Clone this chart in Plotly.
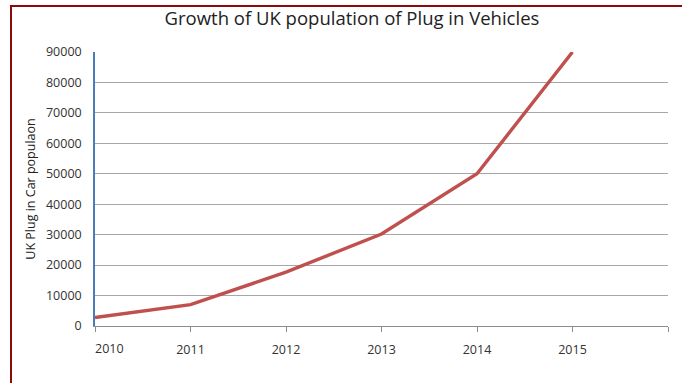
import plotly.graph_objects as go

years = [2010, 2011, 2012, 2013, 2014, 2015]
population = [2800, 7000, 17700, 30200, 50000, 90000]
x_tick_vals = [2010, 2011, 2012, 2013, 2014, 2015, 2016]
x_tick_text = ["", "2011", "2012", "2013", "2014", "2015", ""]
first_label = "2010"
y_tick_vals = [0, 10000, 20000, 30000, 40000, 50000, 60000, 70000, 80000, 90000]

W, H = 682, 383
L, R, T, B = 95, 14, 52, 57
pw, ph = W - L - R, H - T - B

FONT = "Open Sans"

fig = go.Figure()
fig.add_trace(go.Scatter(x=years, y=population, mode="lines",
                         line=dict(color="#C0504D", width=3.4), showlegend=False))

def px_to_paper_x(px):
    return (px - L) / pw

def px_to_paper_y(py):
    return (H - B - py) / ph

fig.update_layout(
    width=W, height=H,
    margin=dict(l=L, r=R, t=T, b=B),
    paper_bgcolor="white", plot_bgcolor="white",
    title=dict(text="Growth of UK population of Plug in Vehicles",
               x=px_to_paper_x(352), xref="paper", xanchor="center",
               y=1 - 19 / H, yanchor="middle",
               font=dict(family=FONT, size=18.5, color="#222222")),
    xaxis=dict(range=[2010, 2016], tickvals=x_tick_vals, ticktext=x_tick_text,
               showgrid=False, zeroline=False, showline=True, linecolor="#8C8C8C",
               linewidth=1, ticks="outside", ticklen=5, tickcolor="#8C8C8C",
               tickfont=dict(family=FONT, size=12.5, color="#333333"),
               ticklabelstandoff=7, fixedrange=True),
    yaxis=dict(range=[0, 90000], tickvals=y_tick_vals, showgrid=True,
               gridcolor="#A6A6A6", gridwidth=1, zeroline=False, showline=True,
               linecolor="#4A7EBB", linewidth=1.6, ticks="", tickformat="d",
               tickfont=dict(family=FONT, size=12.5, color="#333333"),
               ticklabelstandoff=9,
               title=dict(text="UK Plug in Car populaon",
                          font=dict(family=FONT, size=12.5, color="#222222"),
                          standoff=8),
               fixedrange=True),
    annotations=[
        dict(text=first_label, x=x_tick_vals[0], xref="x", xanchor="left",
             xshift=-2,
             y=px_to_paper_y(348), yref="paper", yanchor="middle",
             showarrow=False, font=dict(family=FONT, size=12.5, color="#333333")),
    ],
    shapes=[
        dict(type="line", xref="paper", yref="paper",
             x0=px_to_paper_x(11), x1=px_to_paper_x(11),
             y0=px_to_paper_y(6), y1=px_to_paper_y(400),
             line=dict(color="#8B0A0A", width=2)),
        dict(type="line", xref="paper", yref="paper",
             x0=px_to_paper_x(10), x1=px_to_paper_x(700),
             y0=px_to_paper_y(6), y1=px_to_paper_y(6),
             line=dict(color="#8B0A0A", width=2)),
    ],
)

fig.write_html("out.html", config={"displayModeBar": False},
               post_script="document.body.style.margin='0';")
